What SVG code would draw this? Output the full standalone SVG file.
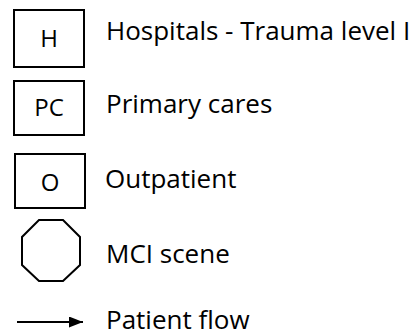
<svg xmlns="http://www.w3.org/2000/svg" width="415" height="336" viewBox="0 0 415 336">
<style>
.box{fill:#fff;stroke:#000;stroke-width:2}
.sym{font-family:"Open Sans","DejaVu Sans",sans-serif;font-size:24px;fill:#000;text-anchor:middle}
.lbl{font-family:"Open Sans","DejaVu Sans",sans-serif;font-size:26px;fill:#000}
.flow{stroke:#000;stroke-width:2;fill:none}
</style>
<defs>
<marker id="ah" markerWidth="14" markerHeight="11" refX="14" refY="5.5" orient="auto" markerUnits="userSpaceOnUse" viewBox="0 0 14 11">
<path d="M0,0 L14,5.5 L0,11 Z" fill="#000"/>
</marker>
</defs>
<rect width="415" height="336" fill="#fff"/>
<g id="node-hospital">
<rect class="box" x="14" y="10" width="70" height="57"/>
<text class="sym" x="49" y="47">H</text>
</g>
<g id="label-hospital"><text class="lbl" x="106" y="40">Hospitals - Trauma level I</text></g>
<g id="node-primary">
<rect class="box" x="14" y="81" width="70" height="54"/>
<text class="sym" x="49" y="116">PC</text>
</g>
<g id="label-primary"><text class="lbl" x="106" y="113">Primary cares</text></g>
<g id="node-outpatient">
<rect class="box" x="15" y="154" width="70" height="54"/>
<text class="sym" x="50" y="191">O</text>
</g>
<g id="label-outpatient"><text class="lbl" x="105" y="188">Outpatient</text></g>
<g id="node-mci">
<polygon class="box" points="39,220 63,220 80,237 80,265 63,281 39,281 22,265 22,237"/>
</g>
<g id="label-mci"><text class="lbl" x="106" y="263">MCI scene</text></g>
<g id="connectors">
<line class="flow" x1="17" y1="322" x2="83" y2="322" marker-end="url(#ah)"/>
</g>
<g id="label-flow"><text class="lbl" x="106" y="329">Patient flow</text></g>
</svg>
